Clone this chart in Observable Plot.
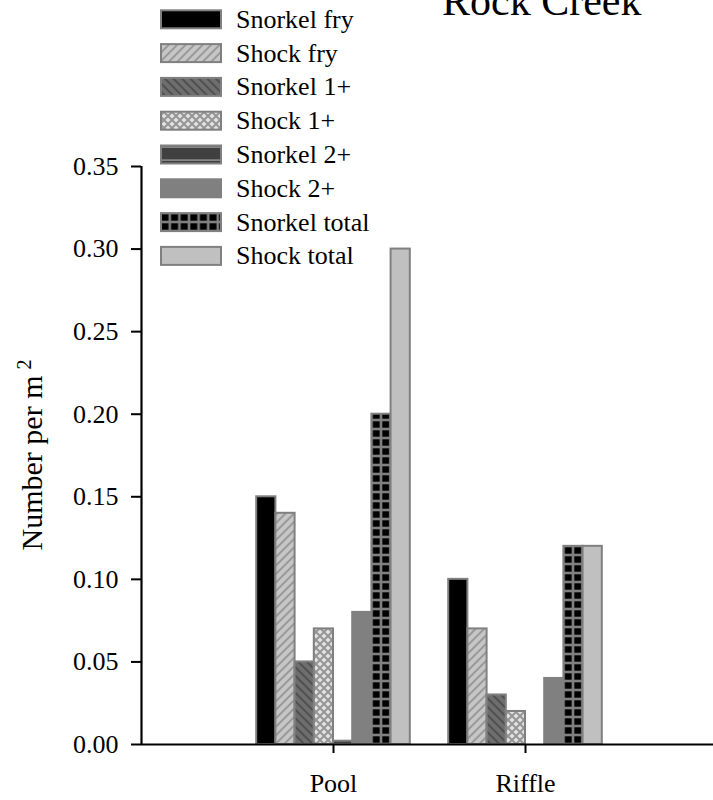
<!DOCTYPE html>
<html><head><meta charset="utf-8">
<script src="https://cdn.jsdelivr.net/npm/d3@7"></script>
<script src="https://cdn.jsdelivr.net/npm/@observablehq/plot@0.6"></script>
<style>
body{margin:0;background:#fff;}
#chart{position:relative;width:713px;height:800px;overflow:hidden;background:#fff}
</style>
</head><body><div id="chart"></div>
<script>
// ---- data ----
const categories = ["Pool", "Riffle"];
const series = ["Snorkel fry", "Shock fry", "Snorkel 1+", "Shock 1+", "Snorkel 2+", "Shock 2+", "Snorkel total", "Shock total"];
const poolValues   = [0.15, 0.14, 0.05, 0.07, 0.002, 0.08, 0.20, 0.30];
const riffleValues = [0.10, 0.07, 0.03, 0.02, 0.0,   0.04, 0.12, 0.12];
const yTicks = [0, 0.05, 0.10, 0.15, 0.20, 0.25, 0.30, 0.35];
const titleText = "Rock Creek";
const yLabelText = "Number per m";
const yLabelSup = "2";

// ---- styles ----
const FONT = "'Liberation Serif', 'Times New Roman', serif";
const fills = {
  "Snorkel fry": "#000000",
  "Shock fry": "url(#pShockFry)",
  "Snorkel 1+": "url(#pSnorkel1)",
  "Shock 1+": "url(#pShock1)",
  "Snorkel 2+": "url(#pSnorkel2)",
  "Shock 2+": "#808080",
  "Snorkel total": "url(#pSnorkelTotal)",
  "Shock total": "#c0c0c0"
};

const table = [];
[poolValues, riffleValues].forEach((vals, ci) =>
  vals.forEach((v, si) => table.push({category: categories[ci], ci, series: series[si], si, value: v})));

const groupWidth = 0.8, barW = groupWidth / series.length;
const bx1 = d => d.ci + 1 - groupWidth / 2 + d.si * barW;
const bx2 = d => bx1(d) + barW;

const NS = "http://www.w3.org/2000/svg";
function el(tag, attrs, parent) {
  const e = document.createElementNS(NS, tag);
  for (const k in attrs) e.setAttribute(k, attrs[k]);
  if (parent) parent.appendChild(e);
  return e;
}

function defsMark(index, scales) {
  const defs = el("defs", {});
  let p = el("pattern", {id: "pShockFry", patternUnits: "userSpaceOnUse", width: 6, height: 6, patternTransform: "rotate(45)"}, defs);
  el("rect", {width: 6, height: 6, fill: "#c6c6c6"}, p);
  el("rect", {width: 2, height: 6, fill: "#999999"}, p);
  p = el("pattern", {id: "pSnorkel1", patternUnits: "userSpaceOnUse", width: 6, height: 6, patternTransform: "rotate(-45)"}, defs);
  el("rect", {width: 6, height: 6, fill: "#6e6e6e"}, p);
  el("rect", {width: 2, height: 6, fill: "#505050"}, p);
  p = el("pattern", {id: "pShock1", patternUnits: "userSpaceOnUse", width: 8, height: 8}, defs);
  el("rect", {width: 8, height: 8, fill: "#959595"}, p);
  const r = 2.6;
  [[4, 4], [0, 0], [8, 0], [0, 8], [8, 8]].forEach(([cx, cy]) =>
    el("polygon", {points: `${cx},${cy - r} ${cx + r},${cy} ${cx},${cy + r} ${cx - r},${cy}`, fill: "#e2e2e2"}, p));
  p = el("pattern", {id: "pSnorkel2", patternUnits: "userSpaceOnUse", width: 10, height: 13, y: 144}, defs);
  el("rect", {width: 10, height: 13, fill: "#404040"}, p);
  el("rect", {y: 2.3, width: 10, height: 1.6, fill: "#8c8c8c"}, p);
  const gx = scales.x(1 + 0.2), gw = (scales.x(1 + 0.2 + barW) - scales.x(1 + 0.2)) / 2;
  const gy = scales.y(0), gh = 9;
  p = el("pattern", {id: "pSnorkelTotal", patternUnits: "userSpaceOnUse", x: gx, y: gy, width: gw, height: gh}, defs);
  el("rect", {width: gw, height: gh, fill: "#000"}, p);
  el("rect", {x: 0, width: 1.3, height: gh, fill: "#808080"}, p);
  el("rect", {x: gw - 1.3, width: 1.3, height: gh, fill: "#808080"}, p);
  el("rect", {y: 0, width: gw, height: 1.3, fill: "#808080"}, p);
  el("rect", {y: gh - 1.3, width: gw, height: 1.3, fill: "#808080"}, p);
  return defs;
}

function titleMark() {
  const t = el("text", {x: 442, y: 15, "text-anchor": "start", "font-size": 42, "font-family": FONT, fill: "#000"});
  t.textContent = titleText;
  return t;
}

function yLabelMark(index, scales) {
  const cy = (scales.y(0) + scales.y(0.35)) / 2;
  const t = el("text", {transform: `translate(42,${cy}) rotate(-90)`, "text-anchor": "middle", "font-size": 30, "font-family": FONT, fill: "#000"});
  t.appendChild(document.createTextNode(yLabelText));
  const s = el("tspan", {dx: 6, "baseline-shift": "super", "font-size": 20}, t);
  s.textContent = yLabelSup;
  return t;
}

function legendMark() {
  const g = el("g", {});
  series.forEach((s, i) => {
    const top = 10.3 + i * 33.8;
    el("rect", {x: 161, y: top, width: 60, height: 18, fill: fills[s], stroke: "#808080", "stroke-width": 2}, g);
    const t = el("text", {x: 236, y: top + 17.5, "text-anchor": "start", "font-size": 26, "font-family": FONT, fill: "#000"}, g);
    t.textContent = s;
  });
  return g;
}

const plot = Plot.plot({
  width: 713,
  height: 800,
  marginTop: 166,
  marginBottom: 56,
  marginLeft: 141,
  marginRight: 0,
  style: {fontFamily: FONT, fontSize: "26px", color: "#000", background: "#fff", overflow: "visible"},
  x: {domain: [0, 3], range: [141, 717]},
  y: {domain: [0, 0.35]},
  marks: [
    defsMark,
    ...series.map(s => Plot.rectY(table.filter(d => d.series === s && d.value > 0), {
      x1: bx1, x2: bx2, y1: 0, y2: "value", fill: fills[s], stroke: "#808080", strokeWidth: 2
    })),
    Plot.ruleY([0], {stroke: "#000", strokeWidth: 2.2}),
    Plot.ruleX([0], {y1: 0, y2: 0.35, stroke: "#000", strokeWidth: 2.2}),
    Plot.axisY({ticks: yTicks, tickFormat: d3.format(".2f"), tickSize: 10, tickPadding: 13, strokeWidth: 2, fontSize: 26, fontFamily: FONT, label: null}),
    Plot.axisX({ticks: [1, 2], tickFormat: d => categories[d - 1], tickSize: 9, tickPadding: 20, strokeWidth: 2, fontSize: 26, fontFamily: FONT, label: null}),
    titleMark,
    yLabelMark,
    legendMark
  ]
});
document.getElementById("chart").appendChild(plot);
</script>
</body></html>
